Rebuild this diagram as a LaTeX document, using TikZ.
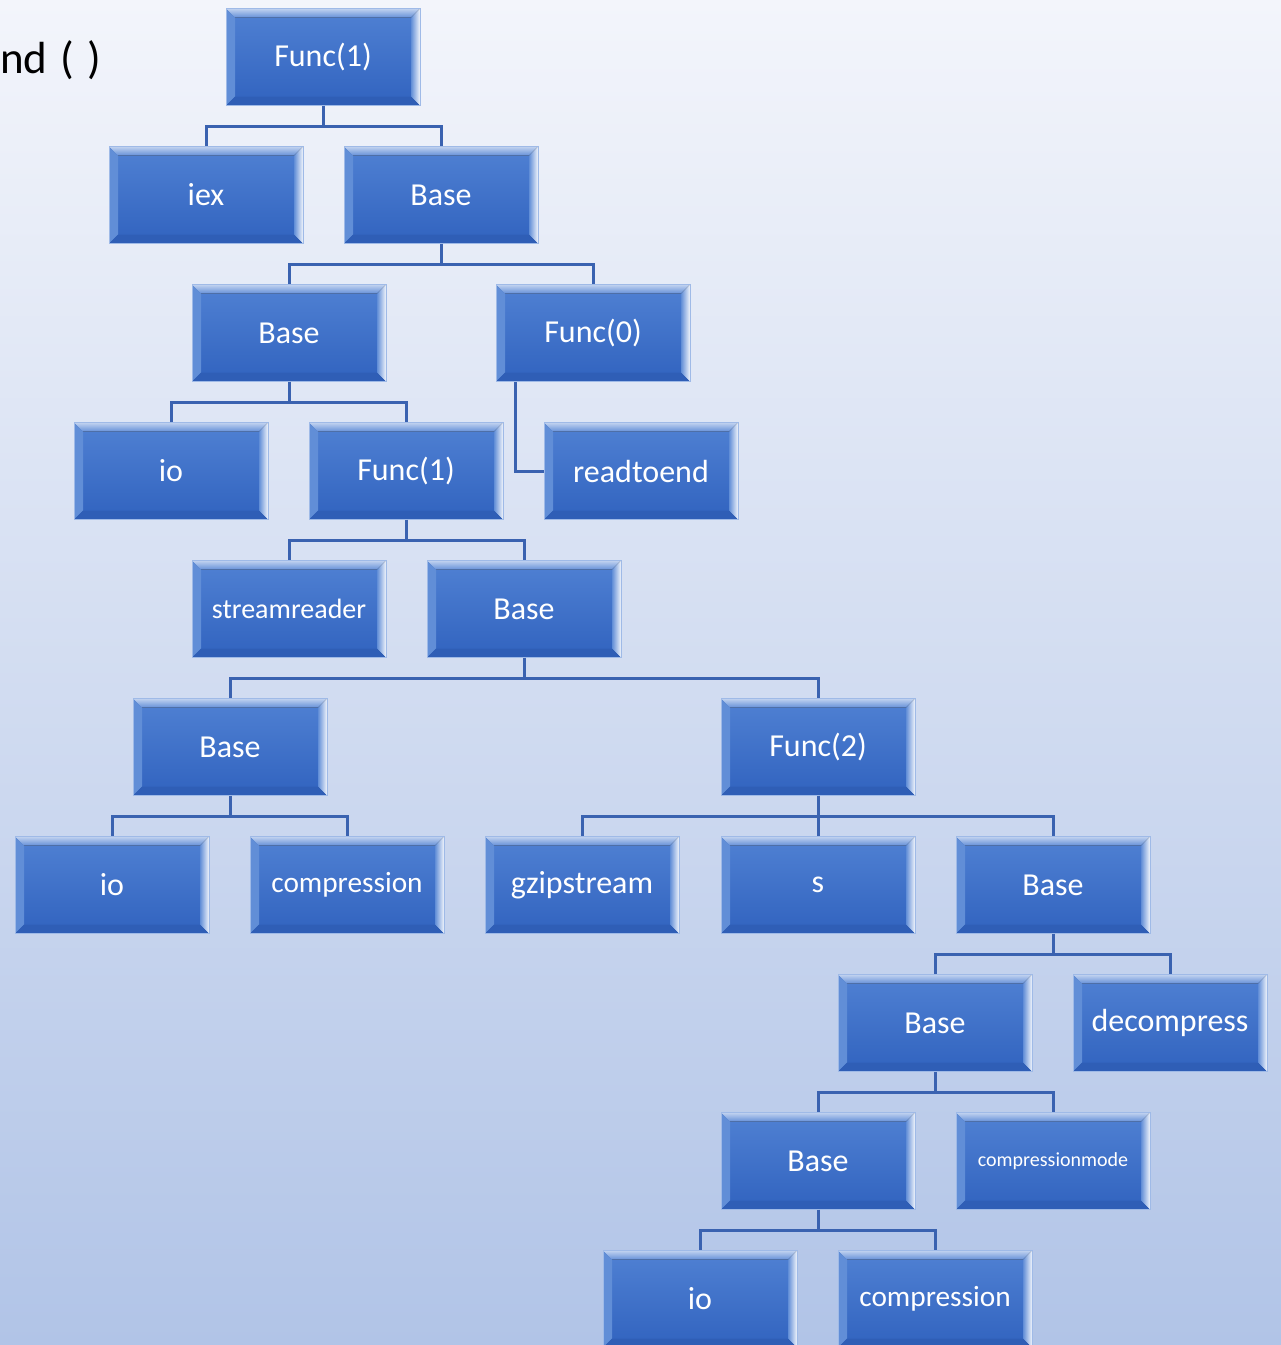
\documentclass[tikz,border=0pt]{standalone}
\usepackage{fontspec}
\setmainfont{Carlito}
\usetikzlibrary{calc}
\definecolor{boxtop}{HTML}{5081D3}
\definecolor{boxbot}{HTML}{3163BF}
\definecolor{connblue}{HTML}{3A62B0}
\definecolor{bgtop}{HTML}{F3F5FB}
\definecolor{bgbot}{HTML}{B1C4E7}
\tikzset{
  blk/.style={rectangle, inner sep=0pt, minimum width=194pt, minimum height=97pt,
    top color=boxtop, bottom color=boxbot, draw=boxtop!55!white, line width=0.8pt,
    text=white, font=\fontsize{32}{38}\selectfont,
    path picture={
      \coordinate (nw) at (path picture bounding box.north west);
      \coordinate (ne) at (path picture bounding box.north east);
      \coordinate (sw) at (path picture bounding box.south west);
      \coordinate (se) at (path picture bounding box.south east);
      \fill[top color=white!65!boxtop, bottom color=white!12!boxtop]
        (nw) -- (ne) -- ($(ne)+(-9pt,-9pt)$) -- ($(nw)+(9pt,-9pt)$) -- cycle;
      \fill[left color=white!10!boxtop, right color=white!92!boxtop]
        (ne) -- (se) -- ($(se)+(-9pt,9pt)$) -- ($(ne)+(-9pt,-9pt)$) -- cycle;
      \fill[white!10!boxtop]
        (nw) -- (sw) -- ($(sw)+(9pt,9pt)$) -- ($(nw)+(9pt,-9pt)$) -- cycle;
      \fill[boxbot!95!black]
        (sw) -- (se) -- ($(se)+(-9pt,9pt)$) -- ($(sw)+(9pt,9pt)$) -- cycle;
    }},
  conn/.style={draw=connblue, line width=3pt}
}
\begin{document}
\begin{tikzpicture}[x=1pt, y=-1pt]
  \clip (0,0) rectangle (1281,1345);
  \fill[top color=bgtop, bottom color=bgbot] (0,0) rectangle (1281,1345);
  \node[anchor=base west, inner sep=0pt, font=\fontsize{45}{54}\selectfont] (title) at (0,73) {nd\hspace{0.3em}(\hspace{0.28em})};
  % level 1
  \node[blk] (f1) at (323,57) {Func(1)};
  % level 2
  \node[blk] (iex) at (206,195) {iex};
  \node[blk] (b1) at (441,195) {Base};
  % level 3
  \node[blk] (b2) at (289,333) {Base};
  \node[blk] (f0) at (593,333) {Func(0)};
  % level 4
  \node[blk] (io1) at (171,471) {io};
  \node[blk] (f1b) at (406,471) {Func(1)};
  \node[blk] (rte) at (641,471) {readtoend};
  % level 5
  \node[blk, font=\fontsize{28}{34}\selectfont] (sr) at (289,609) {streamreader};
  \node[blk] (b3) at (524,609) {Base};
  % level 6
  \node[blk] (b4) at (230,747) {Base};
  \node[blk] (f2) at (818,747) {Func(2)};
  % level 7
  \node[blk] (io2) at (112,885) {io};
  \node[blk, font=\fontsize{29.3}{35}\selectfont] (cmp1) at (347,885) {compression};
  \node[blk] (gz) at (582,885) {gzipstream};
  \node[blk] (s) at (818,885) {s};
  \node[blk] (b5) at (1053,885) {Base};
  % level 8
  \node[blk] (b6) at (935,1023) {Base};
  \node[blk] (dec) at (1170,1023) {decompress};
  % level 9
  \node[blk] (b7) at (818,1161) {Base};
  \node[blk, font=\fontsize{20}{24}\selectfont] (cmode) at (1053,1161) {compressionmode};
  % level 10
  \node[blk] (io3) at (700,1299) {io};
  \node[blk, font=\fontsize{29.3}{35}\selectfont] (cmp2) at (935,1299) {compression};
  % connectors
  \foreach \p/\c in {f1/iex, f1/b1, b1/b2, b1/f0, b2/io1, b2/f1b, f1b/sr, f1b/b3,
      b3/b4, b3/f2, b4/io2, b4/cmp1, f2/gz, f2/s, f2/b5, b5/b6, b5/dec,
      b6/b7, b6/cmode, b7/io3, b7/cmp2}
    \draw[conn] (\p.south) |- ([yshift=20pt]\c.north) -- (\c.north);
  \draw[conn] ([xshift=20pt]f0.south west) |- (rte.west);
\end{tikzpicture}
\end{document}
